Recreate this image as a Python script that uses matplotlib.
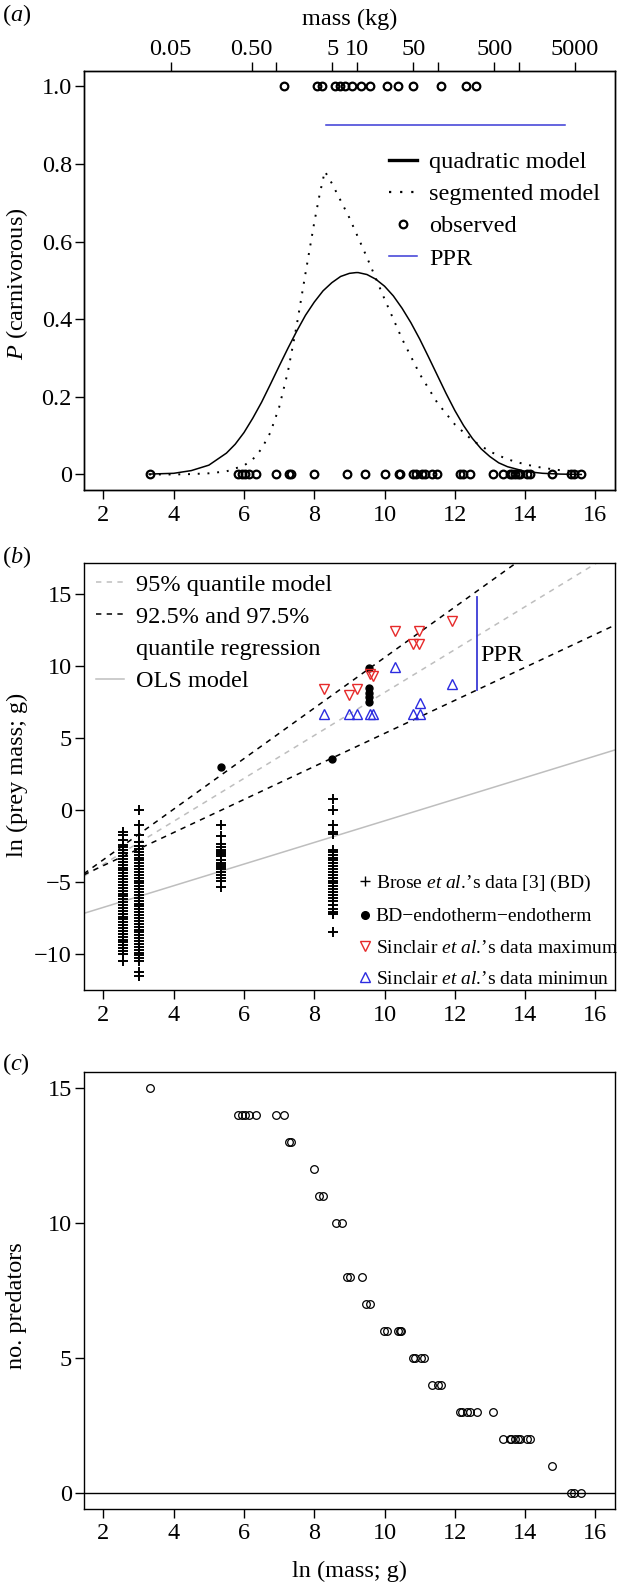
import numpy as np
import matplotlib
matplotlib.use("Agg")
import matplotlib.pyplot as plt
from matplotlib.lines import Line2D

plt.rcParams['font.family'] = ['Liberation Serif', 'DejaVu Serif']
plt.rcParams['mathtext.fontset'] = 'custom'
plt.rcParams['mathtext.rm'] = 'Liberation Serif'
plt.rcParams['mathtext.it'] = 'Liberation Serif:italic'
plt.rcParams['axes.linewidth'] = 1.0

W, H = 617, 1585
FS = 17.5
BLUE = '#3a3ad6'
GREY = '#bebebe'

# ---------------- panel (a) data ----------------
carn_mass = [7.13, 8.09, 8.21, 8.58, 8.74, 8.88, 9.08, 9.32, 9.59,
             10.07, 10.39, 10.81, 11.60, 12.33, 12.60]
noncarn_mass = [3.32, 5.84, 5.93, 6.02, 6.13, 6.33, 6.91, 7.29, 7.34, 7.98,
                8.93, 9.44, 10.00, 10.40, 10.45, 10.82, 10.90, 11.06, 11.15,
                11.36, 11.50, 12.16, 12.22, 12.43, 13.08, 13.37, 13.57, 13.62,
                13.70, 13.79, 13.87, 14.06, 14.15, 14.77, 15.32, 15.40, 15.60]
quad_x = [3.3, 4.0, 4.5, 5.0, 5.5, 5.75, 6.0, 6.25, 6.5, 6.75, 7.0, 7.25, 7.5,
          7.75, 8.0, 8.25, 8.5, 8.75, 9.0, 9.19, 9.25, 9.5, 9.75, 10.0, 10.25,
          10.5, 10.75, 11.0, 11.25, 11.5, 11.75, 12.0, 12.25, 12.5, 12.75,
          13.0, 13.25, 13.5, 14.0, 14.5, 15.0, 15.6]
quad_p = [0.001, 0.003, 0.010, 0.024, 0.055, 0.078, 0.108, 0.145, 0.186,
          0.232, 0.279, 0.325, 0.369, 0.410, 0.444, 0.473, 0.494, 0.510,
          0.518, 0.520, 0.520, 0.515, 0.503, 0.485, 0.460, 0.428, 0.391,
          0.349, 0.303, 0.256, 0.209, 0.165, 0.126, 0.093, 0.066, 0.046,
          0.030, 0.020, 0.008, 0.003, 0.001, 0.000]
seg_x = [3.3, 4.0, 4.5, 5.0, 5.5, 6.0, 6.25, 6.5, 6.75, 7.0, 7.25, 7.5, 7.75,
         8.0, 8.15, 8.3, 8.5, 9.0, 9.5, 10.0, 10.5, 11.0, 11.5, 12.0, 12.5,
         13.0, 13.5, 14.0, 14.5, 15.0, 15.6]
seg_p = [0.000, 0.000, 0.001, 0.003, 0.008, 0.023, 0.039, 0.066, 0.108,
         0.173, 0.265, 0.384, 0.518, 0.649, 0.720, 0.781, 0.750, 0.661,
         0.559, 0.452, 0.349, 0.259, 0.185, 0.129, 0.088, 0.059, 0.039,
         0.026, 0.017, 0.011, 0.007]
ppr_a_x = [8.32, 15.15]
ppr_a_y = [0.9, 0.9]
top_kg = [0.05, 0.5, 1, 5, 10, 50, 100, 500, 1000, 5000]
top_lab = ['0.05', '0.50', '', '5', '10', '50', '', '500', '', '5000']

# ---------------- panel (b) data ----------------
bd_x1, bd_x2, bd_x3, bd_x4 = 2.57, 3.01, 5.35, 8.52
bd_y1 = [-1.5, -1.75, -2.1, -2.4, -2.6, -2.8, -3.0, -3.2, -3.4, -3.6, -3.8,
         -4.0, -4.2, -4.4, -4.6, -4.8, -5.0, -5.2, -5.4, -5.6, -5.8, -6.0,
         -6.2, -6.4, -6.6, -6.8, -7.0, -7.2, -7.4, -7.6, -7.8, -8.0, -8.2,
         -8.4, -8.6, -8.8, -9.0, -9.2, -9.4, -9.6, -9.8, -10.0, -10.5]
bd_y2 = [0.0, -1.05, -1.75, -2.2, -2.5, -2.7, -2.9, -3.1, -3.3, -3.5, -3.7,
         -3.9, -4.1, -4.3, -4.5, -4.7, -4.9, -5.1, -5.3, -5.5, -5.7, -5.9,
         -6.1, -6.3, -6.5, -6.7, -6.9, -7.1, -7.3, -7.5, -7.7, -7.9, -8.1,
         -8.3, -8.5, -8.7, -8.9, -9.1, -9.3, -9.5, -9.7, -9.9, -10.1, -10.3,
         -10.5, -11.25, -11.5]
bd_y3 = [-1.05, -1.8, -2.35, -2.6, -2.75, -2.9, -3.05, -3.2, -3.5, -3.65,
         -3.8, -3.95, -4.1, -4.3, -4.5, -4.75, -4.9, -5.35]
bd_y4 = [0.74, 0.0, -1.04, -1.5, -1.65, -2.8, -2.95, -3.1, -3.3, -3.5, -3.7,
         -3.9, -4.1, -4.3, -4.5, -4.7, -4.9, -5.1, -5.3, -5.5, -5.7, -5.9,
         -6.1, -6.35, -6.6, -6.9, -7.05, -7.25, -8.5]
endo_x = [5.34, 8.51, 9.57, 9.57, 9.57, 9.57, 9.57]
endo_y = [3.01, 3.54, 9.83, 8.45, 8.10, 7.85, 7.52]
smax_x = [8.28, 8.98, 9.21, 9.59, 9.68, 10.31, 10.80, 10.99, 10.99, 11.91]
smax_y = [8.38, 7.99, 8.38, 9.42, 9.31, 12.43, 11.51, 12.43, 11.51, 13.12]
smin_x = [8.28, 8.98, 9.21, 9.59, 9.68, 10.31, 10.82, 11.00, 11.00, 11.91]
smin_y = [6.67, 6.67, 6.67, 6.67, 6.67, 9.95, 6.67, 6.67, 7.41, 8.75]
line_x = [1.44, 16.56]
q975_y = [-4.43, 22.09]
q95_y = [-4.60, 17.93]
q925_y = [-4.50, 12.84]
ols_y = [-7.18, 4.17]
ppr_b_x = [12.62, 12.62]
ppr_b_y = [8.33, 14.80]

# ---------------- panel (c) data ----------------
pc_mass = [3.32,
           5.84, 5.93, 6.02, 6.13, 6.33, 6.91, 7.14,
           7.29, 7.34,
           7.98,
           8.14, 8.25,
           8.63, 8.79,
           8.94, 9.03, 9.37,
           9.46, 9.59,
           9.99, 10.06, 10.38, 10.44, 10.46,
           10.80, 10.86, 11.04, 11.13,
           11.36, 11.52, 11.60,
           12.16, 12.20, 12.36, 12.43, 12.62, 13.08,
           13.37, 13.57, 13.61, 13.70, 13.79, 13.87, 14.06, 14.15,
           14.76,
           15.32, 15.40, 15.60]
pc_npred = [15,
            14, 14, 14, 14, 14, 14, 14,
            13, 13,
            12,
            11, 11,
            10, 10,
            8, 8, 8,
            7, 7,
            6, 6, 6, 6, 6,
            5, 5, 5, 5,
            4, 4, 4,
            3, 3, 3, 3, 3, 3,
            2, 2, 2, 2, 2, 2, 2, 2,
            1,
            0, 0, 0]

xticks = [2, 4, 6, 8, 10, 12, 14, 16]
XLIM = (1.44, 16.56)

fig = plt.figure(figsize=(W / 100, H / 100), dpi=100)


def px_axes(left, top, right, bottom):
    return fig.add_axes([left / W, 1 - bottom / H, (right - left) / W, (bottom - top) / H])


def style(ax):
    ax.set_xlim(*XLIM)
    ax.set_xticks(xticks)
    ax.tick_params(labelsize=FS, length=6.5, width=1.0, direction='out')
    ax.tick_params(axis='x', pad=4)
    ax.tick_params(axis='y', pad=2)


L, R = 83.8, 615.0
DOTS = (0, (1, 4))
DASH = (0, (3.5, 3.5))

# ---------------- (a) ----------------
ax = px_axes(L, 70.7, R, 490)
style(ax)
ax.set_ylim(-0.04, 1.04)
ax.set_yticks([0, 0.2, 0.4, 0.6, 0.8, 1.0])
ax.set_yticklabels(['0', '0.2', '0.4', '0.6', '0.8', '1.0'])
ax.plot(quad_x, quad_p, color='k', lw=1.1)
ax.plot(seg_x, seg_p, color='k', lw=1.4, ls=DOTS)
ax.plot(carn_mass, np.ones(len(carn_mass)), ls='none', marker='o', ms=5.5,
        mfc='none', mec='k', mew=1.6)
ax.plot(noncarn_mass, np.zeros(len(noncarn_mass)), ls='none', marker='o', ms=5.5,
        mfc='none', mec='k', mew=1.6)
ax.plot(ppr_a_x, ppr_a_y, color=BLUE, lw=1.1)

top = ax.twiny()
top.set_xlim(*XLIM)
top.set_xticks(np.log(np.array(top_kg) * 1000))
top.set_xticklabels(top_lab)
top.tick_params(labelsize=FS, length=6.5, width=1.0, pad=1.5)
top.set_xlabel('mass (kg)', fontsize=FS, labelpad=10)

handles = [Line2D([], [], color='k', lw=2.4),
           Line2D([], [], color='k', lw=1.6, ls=DOTS),
           Line2D([], [], color='k', ls='none', marker='o', ms=5.5, mfc='none', mew=1.6),
           Line2D([], [], color=BLUE, lw=1.1)]
ax.legend(handles, ['quadratic model', 'segmented model', 'observed', 'PPR'],
          loc='upper left', bbox_to_anchor=(389 / W, 1 - 151 / H),
          bbox_transform=fig.transFigure, frameon=False, fontsize=FS,
          borderpad=0, borderaxespad=0, handlelength=1.15, handletextpad=0.5,
          labelspacing=0.42)
fig.text(17 / W, 1 - 284 / H, r'$P$ (carnivorous)', rotation=90, fontsize=FS,
         ha='center', va='center')
fig.text(2 / W, 1 - 15 / H, r'($a$)', fontsize=FS, ha='left', va='center')

# ---------------- (b) ----------------
ax = px_axes(L, 563.3, R, 990)
style(ax)
ax.set_ylim(-12.5, 17.13)
ax.set_yticks([-10, -5, 0, 5, 10, 15])
ax.plot(line_x, ols_y, color=GREY, lw=1.1)
ax.plot(line_x, q95_y, color=GREY, lw=1.1, ls=DASH)
ax.plot(line_x, q975_y, color='k', lw=1.1, ls=DASH)
ax.plot(line_x, q925_y, color='k', lw=1.1, ls=DASH)
for bx, by in [(bd_x1, bd_y1), (bd_x2, bd_y2), (bd_x3, bd_y3), (bd_x4, bd_y4)]:
    ax.plot(np.full(len(by), bx), by, ls='none', marker='+', ms=6.5, mew=1.4, color='k')
ax.plot(endo_x, endo_y, ls='none', marker='o', ms=5, color='k')
ax.plot(smax_x, smax_y, ls='none', marker='v', ms=6.5, mfc='none', mec='#e62a2a', mew=1.0)
ax.plot(smin_x, smin_y, ls='none', marker='^', ms=6.5, mfc='none', mec='#2b2be0', mew=1.0)
ax.plot(ppr_b_x, ppr_b_y, color=BLUE, lw=1.3)
ax.text(12.72, 10.76, 'PPR', fontsize=FS, ha='left', va='center')

h1 = [Line2D([], [], color=GREY, lw=1.1, ls=DASH),
      Line2D([], [], color='k', lw=1.1, ls=DASH),
      Line2D([], [], color='none'),
      Line2D([], [], color=GREY, lw=1.1)]
leg1 = ax.legend(h1, ['95% quantile model', '92.5% and 97.5%', 'quantile regression', 'OLS model'],
                 loc='upper left', bbox_to_anchor=(96 / W, 1 - 573.5 / H),
                 bbox_transform=fig.transFigure, frameon=False, fontsize=FS,
                 borderpad=0, borderaxespad=0, handlelength=1.15, handletextpad=0.5,
                 labelspacing=0.42)
ax.add_artist(leg1)
h2 = [Line2D([], [], color='k', ls='none', marker='+', ms=7, mew=1.0),
      Line2D([], [], color='k', ls='none', marker='o', ms=5.5),
      Line2D([], [], ls='none', marker='v', ms=6.5, mfc='none', mec='#e62a2a', mew=1.0),
      Line2D([], [], ls='none', marker='^', ms=6.5, mfc='none', mec='#2b2be0', mew=1.0)]
ax.legend(h2, [r'Brose $et\ al.\!$’s data [3] (BD)', 'BD−endotherm−endotherm',
               r'Sinclair $et\ al.\!$’s data maximum', r'Sinclair $et\ al.\!$’s data minimun'],
          loc='upper left', bbox_to_anchor=(360 / W, 1 - 873 / H),
          bbox_transform=fig.transFigure, frameon=False, fontsize=14,
          borderpad=0, borderaxespad=0, handlelength=0.5, handletextpad=0.3,
          labelspacing=0.7)
fig.text(17 / W, 1 - 775 / H, 'ln (prey mass; g)', rotation=90, fontsize=FS,
         ha='center', va='center')
fig.text(2 / W, 1 - 557 / H, r'($b$)', fontsize=FS, ha='left', va='center')

# ---------------- (c) ----------------
ax = px_axes(L, 1072.3, R, 1508.7)
style(ax)
ax.set_ylim(-0.6, 15.6)
ax.set_yticks([0, 5, 10, 15])
ax.axhline(0, color='k', lw=1.0)
ax.plot(pc_mass, pc_npred, ls='none', marker='o', ms=5.5, mfc='none', mec='k', mew=0.9)
ax.set_xlabel('ln (mass; g)', fontsize=FS, labelpad=12)
fig.text(17 / W, 1 - 1306 / H, 'no. predators', rotation=90, fontsize=FS,
         ha='center', va='center')
fig.text(2 / W, 1 - 1064 / H, r'($c$)', fontsize=FS, ha='left', va='center')

fig.savefig('out.png', dpi=100)
